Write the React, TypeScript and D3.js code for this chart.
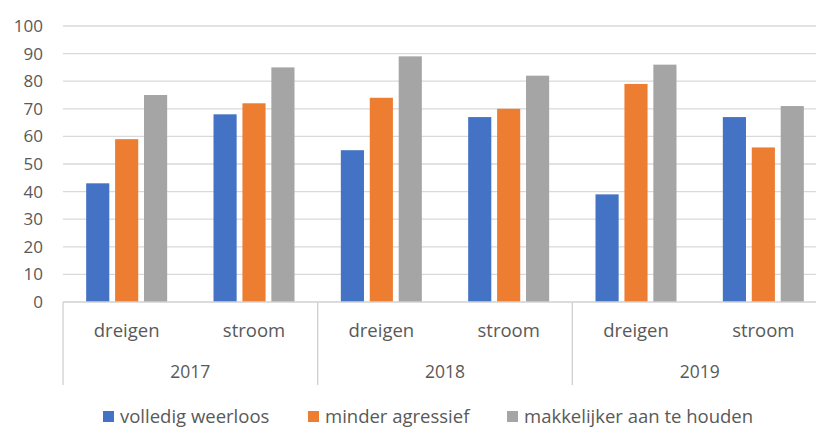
import React from 'react';
import * as d3 from 'd3';

const years = ['2017', '2018', '2019'];
const types = ['dreigen', 'stroom'];
const seriesNames = ['volledig weerloos', 'minder agressief', 'makkelijker aan te houden'];
const colors = ['#4472C4', '#ED7D31', '#A5A5A5'];
// per category: 2017 dreigen, 2017 stroom, 2018 dreigen, 2018 stroom, 2019 dreigen, 2019 stroom
const weerloos = [43, 68, 55, 67, 39, 67];
const agressief = [59, 72, 74, 70, 79, 56];
const houden = [75, 85, 89, 82, 86, 71];
const yTicks = [0, 10, 20, 30, 40, 50, 60, 70, 80, 90, 100];

const W = 816;
const H = 427;
const font = '"Open Sans", "Noto Sans", sans-serif';

const App = () => {
  const cats = years.flatMap((y) => types.map((t) => `${y}-${t}`));
  const series = [weerloos, agressief, houden];

  const x = d3.scaleBand().domain(cats).range([63, 827]);
  const inner = d3.scaleBand().domain(d3.range(3).map(String)).range([0, 81]).paddingInner(0.2);
  const y = d3.scaleLinear().domain([0, 100]).range([302, 26]);
  const yearX = d3.scaleBand().domain(years).range([63, 827]);

  const legendX = [103, 308, 507];

  return (
    <svg width={W} height={H} style={{ display: 'block', position: 'absolute', left: 0, top: 0, background: '#fff' }}>
      {yTicks.map((t) => (
        <g key={t}>
          {t > 0 && <line x1={63} x2={W} y1={y(t)} y2={y(t)} stroke="#d9d9d9" strokeWidth={1.3} />}
          <text x={43} y={y(t)} dy="0.35em" textAnchor="end" fontFamily={font} fontSize={17} fill="#595959">
            {t}
          </text>
        </g>
      ))}
      {cats.map((c, i) => (
        <g key={c}>
          {series.map((s, j) => (
            <rect
              key={j}
              x={x(c)! + (x.bandwidth() - 81) / 2 + inner(String(j))!}
              y={y(s[i])}
              width={inner.bandwidth()}
              height={y(0) - y(s[i])}
              fill={colors[j]}
            />
          ))}
          <text x={x(c)! + x.bandwidth() / 2} y={331} dy="0.35em" textAnchor="middle" fontFamily={font} fontSize={18.5} fill="#595959">
            {types[i % 2]}
          </text>
        </g>
      ))}
      <line x1={63} x2={W} y1={y(0)} y2={y(0)} stroke="#d0d0d0" strokeWidth={1.3} />
      {years.map((yr) => (
        <g key={yr}>
          <line x1={yearX(yr)!} x2={yearX(yr)!} y1={y(0)} y2={385} stroke="#d0d0d0" strokeWidth={1.3} />
          <text x={yearX(yr)! + yearX.bandwidth() / 2} y={372} dy="0.35em" textAnchor="middle" fontFamily={font} fontSize={17.5} fill="#595959">
            {yr}
          </text>
        </g>
      ))}
      {seriesNames.map((n, j) => (
        <g key={n}>
          <rect x={legendX[j]} y={411} width={11} height={11} fill={colors[j]} />
          <text x={legendX[j] + 17} y={417} dy="0.35em" fontFamily={font} fontSize={18.5} fill="#595959">
            {n}
          </text>
        </g>
      ))}
    </svg>
  );
};

export default App;
